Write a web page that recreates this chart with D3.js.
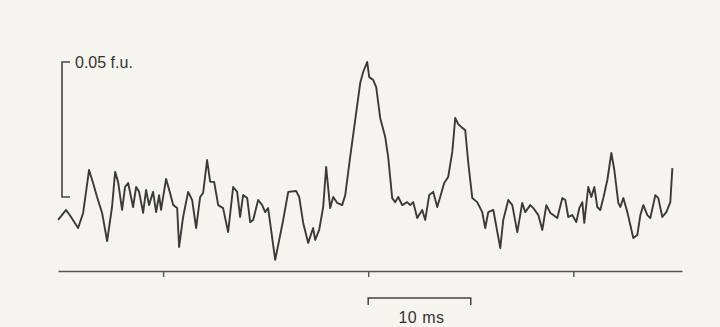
<!DOCTYPE html>
<html>
<head>
<meta charset="utf-8">
<script src="https://cdn.jsdelivr.net/npm/d3@7"></script>
<style>
  html, body { margin: 0; padding: 0; background: #f6f4ef; }
  svg { display: block; }
</style>
</head>
<body>
<svg id="chart"></svg>
<script>
// time (ms), 0 = middle tick
const timeMs = [
  -30.24, -29.46, -28.98, -28.29, -27.80, -27.22, -26.83, -26.44, -25.95, -25.46,
  -24.98, -24.68, -24.39, -24.00, -23.71, -23.41, -22.93, -22.63, -22.34, -21.95,
  -21.66, -21.37, -20.98, -20.68, -20.39, -20.20, -19.71, -19.32, -19.02, -18.63,
  -18.44, -18.05, -17.56, -17.17, -16.78, -16.39, -16.10, -15.71, -15.41, -15.02,
  -14.63, -14.15, -13.66, -13.17, -12.78, -12.49, -12.20, -11.80, -11.51, -11.22,
  -10.73, -10.34, -10.05, -9.76, -9.07, -8.29, -7.80, -7.02, -6.73, -6.34,
  -5.85, -5.37, -5.17, -4.78, -4.39, -4.10, -3.71, -3.41, -3.02, -2.54,
  -2.24, -1.76, -1.27, -0.78, -0.49, -0.10, 0.10, 0.49, 0.78, 1.17,
  1.66, 1.95, 2.34, 2.63, 2.93, 3.32, 3.80, 4.10, 4.39, 4.78,
  5.27, 5.56, 5.95, 6.34, 6.73, 7.02, 7.41, 7.80, 8.20, 8.49,
  8.78, 9.17, 9.46, 9.76, 10.15, 10.63, 11.12, 11.41, 11.71, 12.20,
  12.88, 13.17, 13.66, 14.05, 14.54, 15.02, 15.32, 15.80, 16.10, 16.59,
  16.98, 17.37, 17.76, 18.05, 18.44, 18.93, 19.22, 19.51, 19.90, 20.29,
  20.59, 20.88, 21.07, 21.46, 21.76, 22.05, 22.34, 22.63, 22.93, 23.32,
  23.71, 24.00, 24.39, 24.59, 24.88, 25.27, 25.56, 25.85, 26.24, 26.54,
  26.83, 27.22, 27.51, 28.00, 28.29, 28.68, 29.07, 29.46, 29.66
];

// fluorescence change (f.u.)
const signalFu = [
  -0.0085, -0.0048, -0.0074, -0.0115, -0.0059, 0.0100, 0.0052, 0.0000, -0.0059, -0.0163,
  -0.0037, 0.0093, 0.0056, -0.0048, 0.0037, 0.0052, -0.0037, 0.0037, 0.0019, -0.0059,
  0.0026, -0.0030, 0.0019, -0.0056, 0.0007, -0.0048, 0.0067, 0.0015, -0.0030, -0.0041,
  -0.0185, -0.0074, 0.0019, -0.0011, -0.0115, 0.0000, 0.0015, 0.0137, 0.0056, 0.0056,
  -0.0030, -0.0041, -0.0130, 0.0037, 0.0019, -0.0074, 0.0007, -0.0004, -0.0093, -0.0085,
  -0.0011, -0.0030, -0.0056, -0.0041, -0.0233, -0.0085, 0.0019, 0.0022, 0.0000, -0.0096,
  -0.0170, -0.0115, -0.0159, -0.0122, -0.0037, 0.0111, -0.0041, 0.0000, -0.0022, -0.0030,
  0.0007, 0.0148, 0.0285, 0.0422, 0.0463, 0.0500, 0.0444, 0.0433, 0.0407, 0.0293,
  0.0222, 0.0148, -0.0004, -0.0019, 0.0000, -0.0030, -0.0019, -0.0030, -0.0019, -0.0078,
  -0.0048, -0.0085, 0.0007, 0.0019, -0.0037, 0.0000, 0.0052, 0.0074, 0.0167, 0.0293,
  0.0270, 0.0256, 0.0248, 0.0126, -0.0004, -0.0019, -0.0056, -0.0115, -0.0056, -0.0048,
  -0.0189, -0.0085, -0.0011, -0.0030, -0.0130, -0.0022, -0.0056, -0.0030, -0.0041, -0.0067,
  -0.0122, -0.0030, -0.0059, -0.0067, -0.0078, -0.0004, -0.0011, -0.0074, -0.0067, -0.0093,
  -0.0041, -0.0019, -0.0096, 0.0037, 0.0000, 0.0037, -0.0037, -0.0048, -0.0004, 0.0063,
  0.0163, 0.0100, -0.0022, -0.0037, -0.0004, -0.0056, -0.0104, -0.0152, -0.0141, -0.0067,
  -0.0030, -0.0067, -0.0078, 0.0007, -0.0004, -0.0074, -0.0056, -0.0019, 0.0107
];

// axis ticks (ms) and calibration bars
const tickMs = [-20, 0, 20];
const timeBar = [0, 10];       // 10 ms
const ampBar = [0, 0.05];      // 0.05 f.u.
const timeBarLabel = "10 ms";
const ampBarLabel = "0.05 f.u.";

const width = 720, height = 327;

const svg = d3.select("#chart")
    .attr("width", width)
    .attr("height", height);

// scales
const x = d3.scaleLinear()
    .domain([-30.25, 30.6])
    .range([58, 682]);

const y = d3.scaleLinear()
    .domain([0, 0.05])
    .range([197, 62]);

const ink = "#3a3a3a";
const font = "Liberation Sans, Arial, sans-serif";

// time axis
const axisY = 271;
const axis = svg.append("g")
    .attr("transform", `translate(0,${axisY})`)
    .call(d3.axisBottom(x)
        .tickValues(tickMs)
        .tickSize(6)
        .tickSizeOuter(0)
        .tickFormat(""));

axis.select(".domain")
    .attr("stroke", "#555")
    .attr("stroke-width", 1.6);
axis.selectAll(".tick line")
    .attr("stroke", "#555")
    .attr("stroke-width", 1.4);

// trace
const points = timeMs.map((t, i) => [t, signalFu[i]]);

const line = d3.line()
    .x(d => x(d[0]))
    .y(d => y(d[1]));

svg.append("path")
    .datum(points)
    .attr("fill", "none")
    .attr("stroke", ink)
    .attr("stroke-width", 1.9)
    .attr("stroke-linejoin", "round")
    .attr("d", line);

// amplitude calibration bar
const ampX = 62;
svg.append("path")
    .attr("fill", "none")
    .attr("stroke", "#444")
    .attr("stroke-width", 1.6)
    .attr("d", `M${ampX + 8},${y(ampBar[1])} H${ampX} V${y(ampBar[0])} H${ampX + 8}`);

svg.append("text")
    .attr("x", ampX + 13)
    .attr("y", y(ampBar[1]) + 6)
    .attr("font-family", font)
    .attr("font-size", 16)
    .attr("fill", "#333")
    .text(ampBarLabel);

// time calibration bar
const barY = 298;
svg.append("path")
    .attr("fill", "none")
    .attr("stroke", "#444")
    .attr("stroke-width", 1.5)
    .attr("d", `M${x(timeBar[0])},${barY + 7} V${barY} H${x(timeBar[1])} V${barY + 7}`);

svg.append("text")
    .attr("x", (x(timeBar[0]) + x(timeBar[1])) / 2 + 2)
    .attr("y", barY + 25)
    .attr("text-anchor", "middle")
    .attr("font-family", font)
    .attr("font-size", 16)
    .attr("letter-spacing", 0.5)
    .attr("fill", "#333")
    .text(timeBarLabel);
</script>
</body>
</html>
